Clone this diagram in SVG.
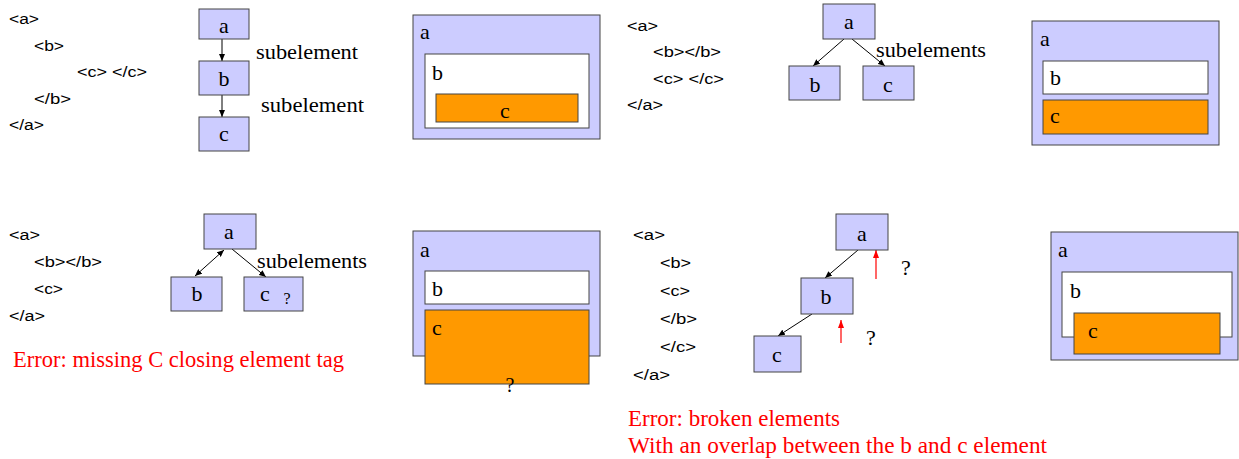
<svg xmlns="http://www.w3.org/2000/svg" width="1239" height="459" viewBox="0 0 1239 459">
<style>
.code{font-family:"Liberation Sans",Arial,sans-serif;font-size:14px;fill:#000}
.lbl{font-family:"Liberation Serif","Times New Roman",serif;font-size:22px;fill:#000}
.mid{text-anchor:middle}
.sub{font-family:"Liberation Serif","Times New Roman",serif;font-size:21px;fill:#000}
.err{font-family:"Liberation Serif","Times New Roman",serif;font-size:22.5px;fill:#ff0000}
.node{fill:#ccccff;stroke:#444;stroke-width:1}
.white{fill:#fff;stroke:#444;stroke-width:1}
.orange{fill:#ff9900;stroke:#444;stroke-width:1}
.edge{stroke:#000;stroke-width:1;fill:none}
.red{stroke:#ff0000;stroke-width:1.2;fill:none}
</style>
<defs>
<marker id="arr" viewBox="0 0 10 10" refX="10" refY="5" markerWidth="7" markerHeight="6" markerUnits="userSpaceOnUse" orient="auto-start-reverse" preserveAspectRatio="none"><path d="M0,0 L10,5 L0,10 z" fill="#000"/></marker>
<marker id="arrR" viewBox="0 0 10 10" refX="10" refY="5" markerWidth="8" markerHeight="6" markerUnits="userSpaceOnUse" orient="auto" preserveAspectRatio="none"><path d="M0,0 L10,5 L0,10 z" fill="#ff0000"/></marker>
</defs>

<g id="code1">
<text class="code" x="9" y="24" textLength="30" lengthAdjust="spacingAndGlyphs">&lt;a&gt;</text>
<text class="code" x="34" y="51" textLength="30" lengthAdjust="spacingAndGlyphs">&lt;b&gt;</text>
<text class="code" x="77" y="77" textLength="70" lengthAdjust="spacingAndGlyphs">&lt;c&gt; &lt;/c&gt;</text>
<text class="code" x="34" y="104" textLength="37" lengthAdjust="spacingAndGlyphs">&lt;/b&gt;</text>
<text class="code" x="9" y="130" textLength="35" lengthAdjust="spacingAndGlyphs">&lt;/a&gt;</text>
</g>

<g id="connectors">
<line class="edge" x1="222" y1="39" x2="222" y2="61" marker-end="url(#arr)"/>
<line class="edge" x1="222" y1="95" x2="222" y2="117" marker-end="url(#arr)"/>
<line class="edge" x1="844" y1="39" x2="813" y2="66" marker-end="url(#arr)"/>
<line class="edge" x1="852" y1="39" x2="885" y2="66" marker-end="url(#arr)"/>
<line class="edge" x1="224" y1="250" x2="195" y2="276" marker-start="url(#arr)" marker-end="url(#arr)"/>
<line class="edge" x1="232" y1="249" x2="266" y2="277" marker-end="url(#arr)"/>
<line class="edge" x1="858" y1="250" x2="825" y2="278" marker-end="url(#arr)"/>
<line class="edge" x1="812" y1="314" x2="778" y2="336" marker-end="url(#arr)"/>
<line class="red" x1="876" y1="279" x2="876" y2="250" marker-end="url(#arrR)"/>
<line class="red" x1="841" y1="343" x2="841" y2="320" marker-end="url(#arrR)"/>
</g>

<g id="t1a"><rect class="node" x="199" y="9" width="50" height="30"/><text class="lbl mid" font-family="Liberation Serif" x="224" y="33">a</text></g>
<g id="t1b"><rect class="node" x="199" y="61" width="50" height="34"/><text class="lbl mid" font-family="Liberation Serif" x="224" y="86">b</text></g>
<g id="t1c"><rect class="node" x="199" y="117" width="50" height="34"/><text class="lbl mid" font-family="Liberation Serif" x="224" y="141">c</text></g>
<text class="sub" font-family="Liberation Serif" x="256" y="59" textLength="102" lengthAdjust="spacingAndGlyphs">subelement</text>
<text class="sub" font-family="Liberation Serif" x="261" y="112" textLength="103" lengthAdjust="spacingAndGlyphs">subelement</text>

<g id="n1a"><rect class="node" x="413" y="15" width="187" height="124"/><text class="lbl" x="420" y="39">a</text></g>
<g id="n1b"><rect class="white" x="425" y="54" width="164" height="74"/><text class="lbl" x="432" y="80">b</text></g>
<g id="n1c"><rect class="orange" x="436" y="94" width="142" height="28"/><text class="lbl mid" x="505" y="118">c</text></g>

<g id="code2">
<text class="code" x="627" y="31" textLength="31" lengthAdjust="spacingAndGlyphs">&lt;a&gt;</text>
<text class="code" x="653" y="57" textLength="68" lengthAdjust="spacingAndGlyphs">&lt;b&gt;&lt;/b&gt;</text>
<text class="code" x="653" y="84" textLength="71" lengthAdjust="spacingAndGlyphs">&lt;c&gt; &lt;/c&gt;</text>
<text class="code" x="627" y="110" textLength="36" lengthAdjust="spacingAndGlyphs">&lt;/a&gt;</text>
</g>

<g id="t2a"><rect class="node" x="823" y="4" width="52" height="35"/><text class="lbl mid" x="849" y="29">a</text></g>
<g id="t2b"><rect class="node" x="789" y="66" width="51" height="34"/><text class="lbl mid" x="815" y="92">b</text></g>
<g id="t2c"><rect class="node" x="863" y="66" width="51" height="34"/><text class="lbl mid" x="888" y="92">c</text></g>
<text class="sub" x="876" y="57" textLength="110" lengthAdjust="spacingAndGlyphs">subelements</text>

<g id="n2a"><rect class="node" x="1032" y="21" width="187" height="124"/><text class="lbl" x="1040" y="46">a</text></g>
<g id="n2b"><rect class="white" x="1043" y="61" width="165" height="33"/><text class="lbl" x="1050" y="85">b</text></g>
<g id="n2c"><rect class="orange" x="1043" y="100" width="165" height="34"/><text class="lbl" x="1050" y="123">c</text></g>

<g id="code3">
<text class="code" x="9" y="240" textLength="31" lengthAdjust="spacingAndGlyphs">&lt;a&gt;</text>
<text class="code" x="34" y="267" textLength="68" lengthAdjust="spacingAndGlyphs">&lt;b&gt;&lt;/b&gt;</text>
<text class="code" x="34" y="294" textLength="29" lengthAdjust="spacingAndGlyphs">&lt;c&gt;</text>
<text class="code" x="9" y="321" textLength="36" lengthAdjust="spacingAndGlyphs">&lt;/a&gt;</text>
</g>
<text class="err" x="13" y="367" textLength="331" lengthAdjust="spacingAndGlyphs">Error: missing C closing element tag</text>

<g id="t3a"><rect class="node" x="204" y="214" width="52" height="35"/><text class="lbl mid" x="229" y="239">a</text></g>
<g id="t3b"><rect class="node" x="171" y="277" width="51" height="34"/><text class="lbl mid" x="197" y="301">b</text></g>
<g id="t3c"><rect class="node" x="244" y="277" width="59" height="34"/><text class="lbl mid" x="265" y="301">c</text><text class="lbl mid" x="287" y="304" style="font-size:16px">?</text></g>
<text class="sub" x="257" y="268" textLength="110" lengthAdjust="spacingAndGlyphs">subelements</text>

<g id="n3a"><rect class="node" x="413" y="231" width="187" height="125"/><text class="lbl" x="420" y="257">a</text></g>
<g id="n3b"><rect class="white" x="425" y="271" width="164" height="33"/><text class="lbl" x="432" y="296">b</text></g>
<g id="n3c"><rect class="orange" x="425" y="310" width="164" height="74"/><text class="lbl" x="432" y="335">c</text></g>
<text class="lbl mid" x="510" y="392" style="font-size:20px">?</text>

<g id="code4">
<text class="code" x="633" y="240" textLength="32" lengthAdjust="spacingAndGlyphs">&lt;a&gt;</text>
<text class="code" x="660" y="268" textLength="31" lengthAdjust="spacingAndGlyphs">&lt;b&gt;</text>
<text class="code" x="660" y="296" textLength="30" lengthAdjust="spacingAndGlyphs">&lt;c&gt;</text>
<text class="code" x="660" y="324" textLength="37" lengthAdjust="spacingAndGlyphs">&lt;/b&gt;</text>
<text class="code" x="660" y="352" textLength="36" lengthAdjust="spacingAndGlyphs">&lt;/c&gt;</text>
<text class="code" x="633" y="380" textLength="37" lengthAdjust="spacingAndGlyphs">&lt;/a&gt;</text>
</g>

<g id="t4a"><rect class="node" x="836" y="214" width="52" height="36"/><text class="lbl mid" x="862" y="241">a</text></g>
<g id="t4b"><rect class="node" x="801" y="278" width="52" height="36"/><text class="lbl mid" x="826" y="304">b</text></g>
<g id="t4c"><rect class="node" x="754" y="336" width="47" height="36"/><text class="lbl mid" x="777" y="362">c</text></g>
<text class="lbl mid" x="906" y="275">?</text>
<text class="lbl mid" x="871" y="345">?</text>
<text class="err" x="628" y="426" style="font-size:23px" textLength="212" lengthAdjust="spacingAndGlyphs">Error: broken elements</text>
<text class="err" x="628" y="453" style="font-size:23px" textLength="419" lengthAdjust="spacingAndGlyphs">With an overlap between the b and c element</text>

<g id="n4a"><rect class="node" x="1051" y="232" width="187" height="128"/><text class="lbl" x="1058" y="257">a</text></g>
<g id="n4b"><rect class="white" x="1062" y="272" width="170" height="65"/><text class="lbl" x="1070" y="298">b</text></g>
<g id="n4c"><rect class="orange" x="1074" y="313" width="146" height="41"/><text class="lbl" x="1088" y="338">c</text></g>
</svg>
